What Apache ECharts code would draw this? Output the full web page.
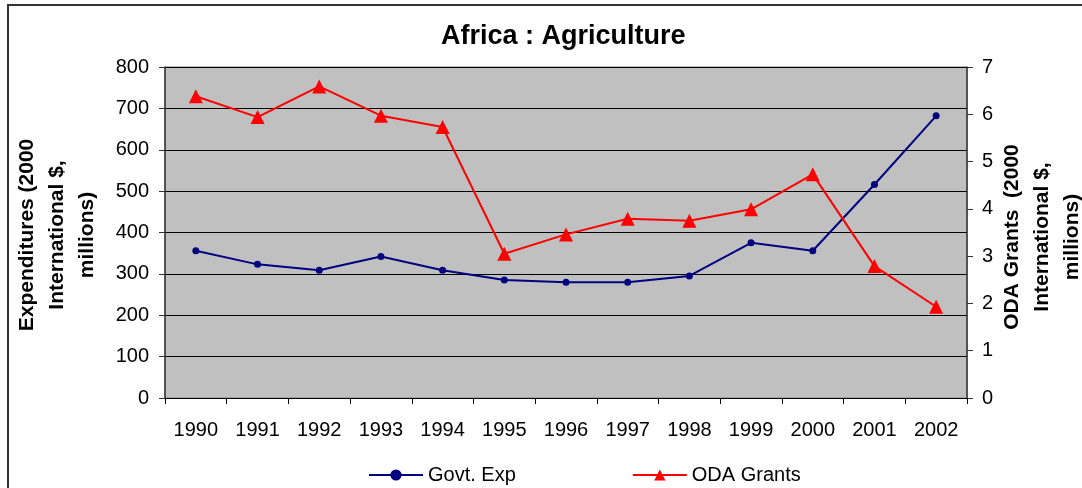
<!DOCTYPE html>
<html lang="en">
<head>
<meta charset="UTF-8">
<title>Africa : Agriculture</title>
<script src="https://cdn.jsdelivr.net/npm/echarts@6/dist/echarts.min.js"></script>
<style>
html, body { margin: 0; padding: 0; background: #fff; }
#chart { width: 1082px; height: 488px; }
</style>
</head>
<body>
<div id="chart"></div>
<script>
const years = ['1990', '1991', '1992', '1993', '1994', '1995', '1996', '1997', '1998', '1999', '2000', '2001', '2002'];
const govtExp = [356, 323, 309, 342, 309, 285, 280, 280, 295, 375, 356, 516, 682];
const odaGrants = [6.38, 5.94, 6.59, 5.97, 5.73, 3.05, 3.46, 3.79, 3.75, 3.99, 4.73, 2.79, 1.93];
const leftTicks = { min: 0, max: 800, step: 100 };
const rightTicks = { min: 0, max: 7, step: 1 };

const font = 'Liberation Sans, Arial, sans-serif';
const chart = echarts.init(document.getElementById('chart'));
chart.setOption({
  animation: false,
  backgroundColor: '#fff',
  title: {
    text: 'Africa : Agriculture',
    left: 436,
    top: 18,
    textStyle: { fontFamily: font, fontSize: 27, fontWeight: 'bold', color: '#000' }
  },
  grid: {
    left: 165, right: 115, top: 67, bottom: 90,
    show: true,
    backgroundColor: '#C0C0C0',
    borderColor: '#808080',
    borderWidth: 1
  },
  legend: {
    left: 363,
    top: 460,
    itemWidth: 54,
    itemHeight: 14,
    itemGap: 116,
    textStyle: { fontFamily: font, fontSize: 20, color: '#000' },
    data: ['Govt. Exp', 'ODA Grants']
  },
  xAxis: {
    type: 'category',
    data: years,
    boundaryGap: true,
    axisLine: { lineStyle: { color: '#000', width: 1 } },
    axisTick: { show: true, length: 6, lineStyle: { color: '#000' } },
    axisLabel: { margin: 22, fontFamily: font, fontSize: 20, color: '#000' },
    splitLine: { show: false }
  },
  yAxis: [{
    type: 'value',
    min: leftTicks.min,
    max: leftTicks.max,
    interval: leftTicks.step,
    position: 'left',
    axisLine: { show: true, lineStyle: { color: '#333', width: 1.5 } },
    axisTick: { show: true, length: 6, lineStyle: { color: '#333' } },
    axisLabel: { margin: 16, fontFamily: font, fontSize: 20, color: '#000' },
    splitLine: { show: true, lineStyle: { color: '#000', width: 1 } }
  }, {
    type: 'value',
    min: rightTicks.min,
    max: rightTicks.max,
    interval: rightTicks.step,
    position: 'right',
    axisLine: { show: true, lineStyle: { color: '#333', width: 1.5 } },
    axisTick: { show: true, length: 6, lineStyle: { color: '#333' } },
    axisLabel: { margin: 15, fontFamily: font, fontSize: 20, color: '#000' },
    splitLine: { show: false }
  }],
  series: [{
    name: 'Govt. Exp',
    type: 'line',
    yAxisIndex: 0,
    data: govtExp,
    symbol: 'circle',
    symbolSize: 7,
    lineStyle: { color: '#000080', width: 2 },
    itemStyle: { color: '#000080' }
  }, {
    name: 'ODA Grants',
    type: 'line',
    yAxisIndex: 1,
    data: odaGrants,
    symbol: 'triangle',
    symbolSize: 14,
    lineStyle: { color: '#FF0000', width: 2 },
    itemStyle: { color: '#FF0000' }
  }],
  graphic: [{
    type: 'rect',
    shape: { x: 8, y: 5, width: 1200, height: 600 },
    style: { fill: 'none', stroke: '#333', lineWidth: 2 },
    silent: true
  }, {
    type: 'text',
    x: 57, y: 235,
    rotation: Math.PI / 2,
    style: {
      text: 'Expenditures (2000\nInternational $,\nmillions)',
      fontFamily: font, fontSize: 21, fontWeight: 'bold', fill: '#000',
      align: 'center', verticalAlign: 'middle', lineHeight: 30
    }
  }, {
    type: 'text',
    x: 1042, y: 237,
    rotation: Math.PI / 2,
    style: {
      text: 'ODA Grants  (2000\nInternational $,\nmillions)',
      fontFamily: font, fontSize: 21, fontWeight: 'bold', fill: '#000',
      align: 'center', verticalAlign: 'middle', lineHeight: 30
    }
  }]
});
</script>
</body>
</html>
